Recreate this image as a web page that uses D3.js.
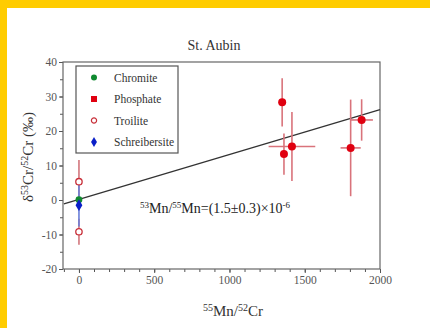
<!DOCTYPE html>
<html>
<head>
<meta charset="utf-8">
<script src="https://cdn.jsdelivr.net/npm/d3@7"></script>
<style>
  html, body { margin: 0; padding: 0; background: #ffcc00; }
  svg { display: block; }
  .tick text { font-family: 'Liberation Serif', 'DejaVu Serif', serif; }
</style>
</head>
<body>
<svg id="chart" width="430" height="328"></svg>
<script>
// ── Data ──────────────────────────────────────────────────────────────────
const chromite = [{ x: 0, y: 0.1, ey: 0.8 }];
const phosphate = [
  { x: 1350, y: 28.3, ex: 0, ey: 7 },
  { x: 1362, y: 13.3, ex: 0, ey: 6 },
  { x: 1415, y: 15.5, ex: 155, ey: 10 },
  { x: 1805, y: 15.1, ex: 67, ey: 14 },
  { x: 1878, y: 23.2, ex: 75, ey: 6 },
];
const troilite = [
  { x: 0, y: 5.3, ey: 6.3 },
  { x: 0, y: -9.2, ey: 3.8 },
];
const schreibersite = [{ x: 0, y: -1.5, ey: 6.2 }];
const fitLine = [{ x: -100, y: -1.1 }, { x: 2000, y: 26.2 }];
const legendLabels = ["Chromite", "Phosphate", "Troilite", "Schreibersite"];
const xTicks = [0, 500, 1000, 1500, 2000];
const yTicks = [-20, -10, 0, 10, 20, 30, 40];

// ── Layout ────────────────────────────────────────────────────────────────
const svg = d3.select("#chart");
const serif = "'Liberation Serif', 'DejaVu Serif', serif";
const margin = { left: 63, right: 380, top: 62, bottom: 269 };

svg.append("rect")
  .attr("x", 7).attr("y", 8)
  .attr("width", 423).attr("height", 320)
  .attr("fill", "#fff");

const x = d3.scaleLinear().domain([-106, 2000]).range([margin.left, margin.right]);
const y = d3.scaleLinear().domain([-20, 40]).range([margin.bottom, margin.top]);

const axisColor = "#555";
const plain = (d) => String(d);

// minor ticks
const g = svg.append("g");
const xMinor = d3.range(-100, 2001, 100);
const yMinor = d3.range(-20, 41, 5);

g.append("g")
  .attr("transform", `translate(0,${margin.bottom})`)
  .call(d3.axisBottom(x).tickValues(xMinor).tickSize(3).tickFormat(""))
  .call((s) => s.select(".domain").remove())
  .selectAll("line").attr("stroke", axisColor);

g.append("g")
  .attr("transform", `translate(${margin.left},0)`)
  .call(d3.axisLeft(y).tickValues(yMinor).tickSize(3).tickFormat(""))
  .call((s) => s.select(".domain").remove())
  .selectAll("line").attr("stroke", axisColor);

// major ticks + labels
const xAxis = g.append("g")
  .attr("transform", `translate(0,${margin.bottom})`)
  .call(d3.axisBottom(x).tickValues(xTicks).tickFormat(plain).tickSize(4).tickPadding(3));
const yAxis = g.append("g")
  .attr("transform", `translate(${margin.left},0)`)
  .call(d3.axisLeft(y).tickValues(yTicks).tickFormat(plain).tickSize(4).tickPadding(2));

[xAxis, yAxis].forEach((a) => {
  a.attr("font-family", serif).attr("font-size", 11.5);
  a.select(".domain").remove();
  a.selectAll("line").attr("stroke", axisColor);
  a.selectAll("text").attr("fill", "#555").attr("font-family", serif);
});

// frame
svg.append("rect")
  .attr("x", margin.left).attr("y", margin.top)
  .attr("width", margin.right - margin.left)
  .attr("height", margin.bottom - margin.top)
  .attr("fill", "none")
  .attr("stroke", "#666")
  .attr("stroke-width", 1.2);

// ── Fit line ──────────────────────────────────────────────────────────────
svg.append("path")
  .datum(fitLine)
  .attr("d", d3.line().x((d) => x(d.x)).y((d) => y(d.y)))
  .attr("stroke", "#333")
  .attr("stroke-width", 1.3)
  .attr("fill", "none");

// ── Error bars ────────────────────────────────────────────────────────────
function errorBars(data, color) {
  const eg = svg.append("g").attr("stroke", color).attr("stroke-width", 1.6);
  eg.selectAll(".ey").data(data).join("line")
    .attr("x1", (d) => x(d.x)).attr("x2", (d) => x(d.x))
    .attr("y1", (d) => y(d.y - d.ey)).attr("y2", (d) => y(d.y + d.ey));
  eg.selectAll(".ex").data(data.filter((d) => d.ex)).join("line")
    .attr("x1", (d) => x(d.x - d.ex)).attr("x2", (d) => x(d.x + d.ex))
    .attr("y1", (d) => y(d.y)).attr("y2", (d) => y(d.y));
}

errorBars(troilite, "#d2767c");
errorBars(schreibersite, "#6a7fd8");
errorBars(phosphate, "#d9737b");

// ── Markers ───────────────────────────────────────────────────────────────
svg.append("g").selectAll("circle").data(phosphate).join("circle")
  .attr("cx", (d) => x(d.x)).attr("cy", (d) => y(d.y))
  .attr("r", 4).attr("fill", "#e00010");

svg.append("g").selectAll("circle").data(troilite).join("circle")
  .attr("cx", (d) => x(d.x)).attr("cy", (d) => y(d.y))
  .attr("r", 3.2).attr("fill", "#fff")
  .attr("stroke", "#c8303a").attr("stroke-width", 1.3);

svg.append("g").selectAll("circle").data(chromite).join("circle")
  .attr("cx", (d) => x(d.x)).attr("cy", (d) => y(d.y))
  .attr("r", 3.4).attr("fill", "#108a30");

const diamond = d3.symbol().type(d3.symbolDiamond).size(40);
svg.append("g").selectAll("path").data(schreibersite).join("path")
  .attr("transform", (d) => `translate(${x(d.x)},${y(d.y)})`)
  .attr("d", diamond)
  .attr("fill", "#0a1fc8");

// ── Legend ────────────────────────────────────────────────────────────────
const lg = svg.append("g");
lg.append("rect")
  .attr("x", 76).attr("y", 66)
  .attr("width", 102).attr("height", 87)
  .attr("fill", "#fff")
  .attr("stroke", "#555")
  .attr("stroke-width", 1.2);

const rows = lg.selectAll("g").data(legendLabels).join("g")
  .attr("transform", (d, i) => `translate(94,${77.5 + i * 21.5})`);

rows.each(function (d, i) {
  const r = d3.select(this);
  if (i === 0) r.append("circle").attr("r", 3).attr("fill", "#108a30");
  if (i === 1) r.append("rect").attr("x", -3).attr("y", -3).attr("width", 6).attr("height", 6).attr("fill", "#e00010");
  if (i === 2) r.append("circle").attr("r", 2.6).attr("fill", "#fff").attr("stroke", "#c8303a").attr("stroke-width", 1.2);
  if (i === 3) r.append("path").attr("d", d3.symbol().type(d3.symbolDiamond).size(30)).attr("fill", "#0a1fc8");
});

rows.append("text")
  .attr("x", 20).attr("dy", "0.35em")
  .attr("font-family", serif).attr("font-size", 11.5)
  .attr("fill", "#333")
  .text((d) => d);

// ── Texts ─────────────────────────────────────────────────────────────────
svg.append("text")
  .attr("x", 214).attr("y", 50)
  .attr("text-anchor", "middle")
  .attr("font-family", serif).attr("font-size", 14)
  .attr("fill", "#333")
  .text("St. Aubin");

const xl = svg.append("text")
  .attr("x", 233).attr("y", 316)
  .attr("text-anchor", "middle")
  .attr("font-family", serif).attr("font-size", 15)
  .attr("fill", "#333");
xl.append("tspan").attr("font-size", 10).attr("dy", -5).text("55");
xl.append("tspan").attr("dy", 5).text("Mn/");
xl.append("tspan").attr("font-size", 10).attr("dy", -5).text("52");
xl.append("tspan").attr("dy", 5).text("Cr");

const yl = svg.append("text")
  .attr("transform", "translate(33,157) rotate(-90)")
  .attr("text-anchor", "middle")
  .attr("font-family", serif).attr("font-size", 15)
  .attr("fill", "#333");
yl.append("tspan").text("δ");
yl.append("tspan").attr("font-size", 10).attr("dy", -5).text("53");
yl.append("tspan").attr("dy", 5).text("Cr/");
yl.append("tspan").attr("font-size", 10).attr("dy", -5).text("52");
yl.append("tspan").attr("dy", 5).text("Cr (‰)");

const ann = svg.append("text")
  .attr("x", 140).attr("y", 213)
  .attr("font-family", serif).attr("font-size", 14)
  .attr("fill", "#222");
ann.append("tspan").attr("font-size", 9).attr("dy", -5).text("53");
ann.append("tspan").attr("dy", 5).text("Mn/");
ann.append("tspan").attr("font-size", 9).attr("dy", -5).text("55");
ann.append("tspan").attr("dy", 5).text("Mn=(1.5±0.3)×10");
ann.append("tspan").attr("font-size", 9).attr("dy", -5).text("-6");
</script>
</body>
</html>
